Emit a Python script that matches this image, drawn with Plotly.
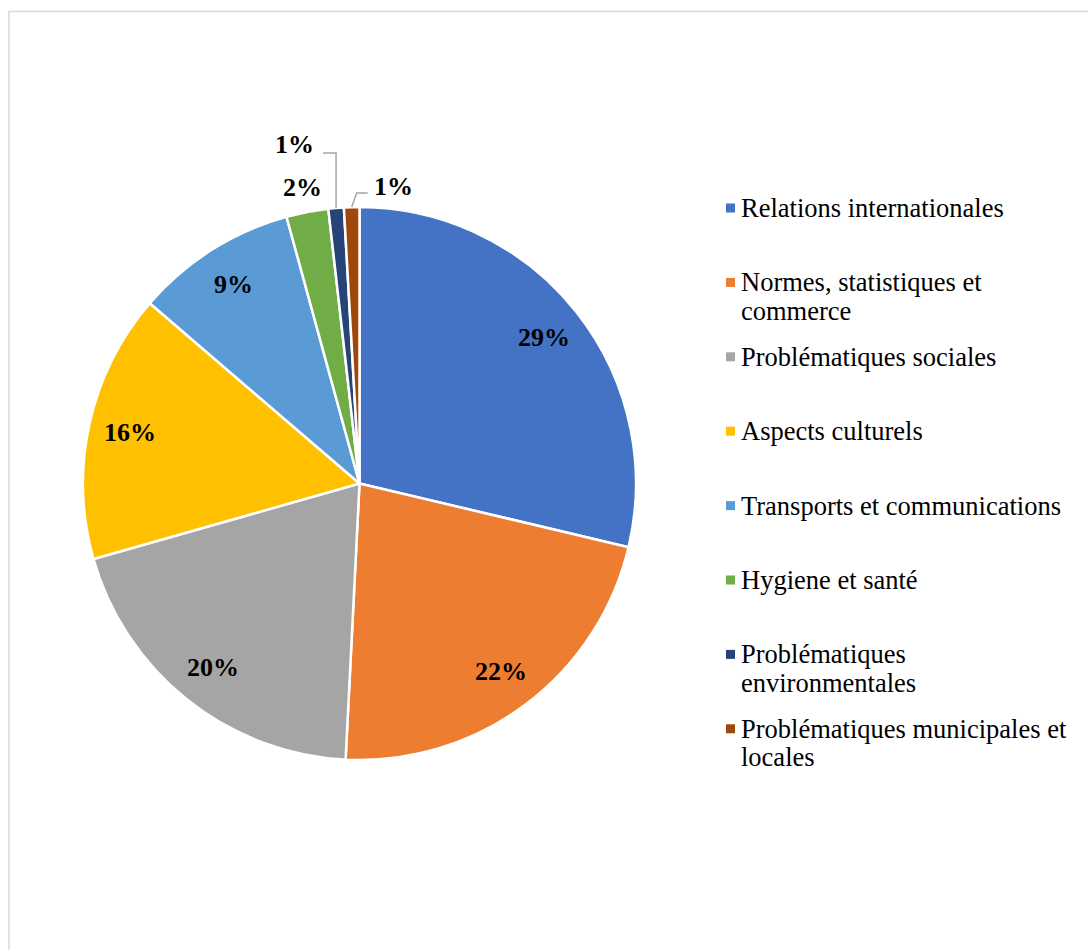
import math
import textwrap
import plotly.graph_objects as go

# Share of items by theme
categories = [
    "Relations internationales",
    "Normes, statistiques et commerce",
    "Problématiques sociales",
    "Aspects culturels",
    "Transports et communications",
    "Hygiene et santé",
    "Problématiques environmentales",
    "Problématiques municipales et locales",
]
shares = [28.7, 22.1, 19.8, 15.7, 9.45, 2.45, 0.9, 0.9]
colors = ["#4472C4", "#ED7D31", "#A5A5A5", "#FFC000",
          "#5B9BD5", "#70AD47", "#264478", "#9E480E"]

# Figure geometry (pixels)
W, H = 1088, 950
CX, CY, R = 359.5, 483.5, 276.5
SERIF = "Liberation Serif, Times New Roman, serif"


def px(x):
    return x / W


def py(y):
    return 1 - y / H


fig = go.Figure(
    go.Pie(
        labels=categories,
        values=shares,
        sort=False,
        direction="clockwise",
        rotation=0,
        marker=dict(colors=colors, line=dict(color="white", width=2.5)),
        textinfo="none",
        hoverinfo="label+percent",
        showlegend=False,
        domain=dict(x=[px(CX - R), px(CX + R)], y=[py(CY + R), py(CY - R)]),
    )
)

total = sum(shares)
annotations = []
shapes = []

# Label placement per slice: inside near the rim, outside, or with a leader line
placement = {5: ("outside", 1.09),
             6: ("leader", dict(elbow=(0, -55), end=(-13, -55), text=(-20, -63), anchor="right")),
             7: ("leader", dict(elbow=(5, -14), end=(16, -14), text=(20, -21), anchor="left"))}

cum = 0.0
for i, v in enumerate(shares):
    mid = (cum + v / 2) / total * 2 * math.pi
    cum += v
    label = f"{round(v / total * 100)}%"
    mode = placement.get(i, ("inside", 0.85))
    font = dict(family=SERIF, size=26, color="black")
    if mode[0] in ("inside", "outside"):
        k = mode[1]
        x = CX + k * R * math.sin(mid)
        y = CY - k * R * math.cos(mid)
        annotations.append(dict(x=px(x), y=py(y), xref="paper", yref="paper",
                                text=f"<b>{label}</b>", showarrow=False,
                                xanchor="center", yanchor="middle", font=font))
    else:
        cfg = mode[1]
        ex = CX + R * math.sin(mid)
        ey = CY - R * math.cos(mid)
        pts = [(ex, ey), (ex + cfg["elbow"][0], ey + cfg["elbow"][1]),
               (ex + cfg["end"][0], ey + cfg["end"][1])]
        path = "M " + " L ".join(f"{px(a)},{py(b)}" for a, b in pts)
        shapes.append(dict(type="path", path=path, xref="paper", yref="paper",
                           line=dict(color="#A6A6A6", width=1.5)))
        annotations.append(dict(x=px(ex + cfg["text"][0]), y=py(ey + cfg["text"][1]),
                                xref="paper", yref="paper", text=f"<b>{label}</b>",
                                showarrow=False, xanchor=cfg["anchor"], yanchor="middle",
                                font=font))

# Legend: colour square plus wrapped label, fixed pitch per entry
LEG_X, LEG_Y0, LEG_STEP, LINE_STEP = 730.5, 208, 74.4, 28.5
for i, (name, col) in enumerate(zip(categories, colors)):
    y0 = LEG_Y0 + i * LEG_STEP
    shapes.append(dict(type="rect", xref="paper", yref="paper",
                       x0=px(LEG_X - 4.5), x1=px(LEG_X + 4.5), y0=py(y0 + 4.5), y1=py(y0 - 4.5),
                       fillcolor=col, line=dict(width=0)))
    for j, line in enumerate(textwrap.wrap(name, 29)):
        annotations.append(dict(x=px(739), y=py(y0 + j * LINE_STEP), xref="paper", yref="paper",
                                text=line, showarrow=False, xanchor="left", yanchor="middle",
                                font=dict(family=SERIF, size=26.5, color="black")))

# Chart frame
shapes.append(dict(type="rect", xref="paper", yref="paper",
                   x0=px(9), x1=px(W + 20), y0=py(H + 20), y1=py(11.5),
                   line=dict(color="#D9D9D9", width=1.5), fillcolor="rgba(0,0,0,0)"))

fig.update_layout(
    width=W, height=H,
    margin=dict(l=0, r=0, t=0, b=0),
    paper_bgcolor="white",
    plot_bgcolor="white",
    annotations=annotations,
    shapes=shapes,
)

fig.write_html("out.html")
